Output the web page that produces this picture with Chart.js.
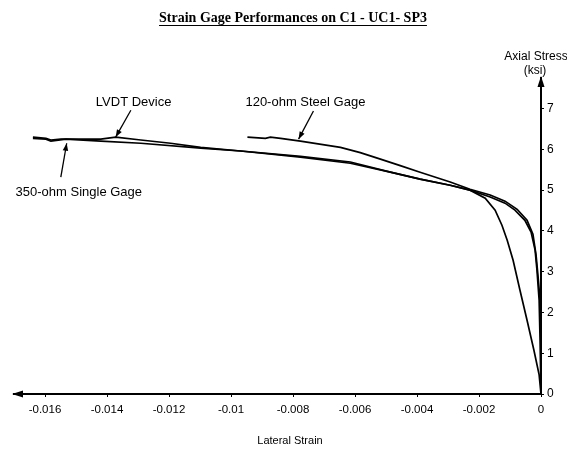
<!doctype html>
<html>
<head>
	<title>Strain Gage Performances</title>
	<script src="https://cdn.jsdelivr.net/npm/chart.js@4.4.0/dist/chart.umd.min.js"></script>
	<style>
	html, body { margin: 0; padding: 0; background: #fff; }
	#container { width: 567px; height: 452px; }
	</style>
</head>
<body>
	<div id="container">
		<canvas id="canvas"></canvas>
	</div>
	<script>
		// values
		const xTicks = [-0.016, -0.014, -0.012, -0.01, -0.008, -0.006, -0.004, -0.002, 0];
		const yTicks = [0, 1, 2, 3, 4, 5, 6, 7];

		const lvdtStrain = [-0.01639, -0.01597, -0.01581, -0.01549, -0.01420, -0.01372, -0.01291, -0.01195, -0.01098, -0.00969,
			-0.00776, -0.00615, -0.00486, -0.00390, -0.00293, -0.00229, -0.00180, -0.00148, -0.00126, -0.00109,
			-0.00090, -0.00068, -0.00045, -0.00023, -0.00006, 0];
		const lvdtStress = [6.30, 6.27, 6.23, 6.25, 6.25, 6.30, 6.23, 6.15, 6.05, 5.96,
			5.83, 5.69, 5.44, 5.27, 5.12, 5.00, 4.80, 4.51, 4.14, 3.77,
			3.28, 2.55, 1.81, 1.08, 0.47, 0];

		const singleStrain = [-0.01639, -0.01597, -0.01581, -0.01533, -0.01420, -0.01291, -0.01098, -0.00969, -0.00776, -0.00615,
			-0.00486, -0.00390, -0.00293, -0.00229, -0.00164, -0.00116, -0.00084, -0.00052, -0.00032, -0.00019,
			-0.00013, -0.00006, -0.00003, 0];
		const singleStress = [6.27, 6.25, 6.20, 6.25, 6.20, 6.15, 6.03, 5.96, 5.81, 5.66,
			5.44, 5.27, 5.12, 5.00, 4.83, 4.68, 4.51, 4.26, 3.97, 3.53,
			3.04, 2.30, 1.32, 0];

		const steelStrain = [-0.00947, -0.00889, -0.00873, -0.00840, -0.00776, -0.00647, -0.00583, -0.00518, -0.00454, -0.00390,
			-0.00293, -0.00229, -0.00164, -0.00116, -0.00077, -0.00045, -0.00026, -0.00016, -0.00010, -0.00003, 0, 0];
		const steelStress = [6.30, 6.27, 6.30, 6.27, 6.20, 6.05, 5.92, 5.76, 5.60, 5.44,
			5.20, 5.02, 4.88, 4.73, 4.53, 4.26, 3.92, 3.41, 2.92, 2.30, 1.32, 0];

		function toPoints(xs, ys) {
			return xs.map((x, i) => ({x: x, y: ys[i]}));
		}

		function curve(label, xs, ys) {
			return {
				label: label,
				data: toPoints(xs, ys),
				showLine: true,
				borderColor: '#000',
				borderWidth: 1.7,
				pointRadius: 0,
				tension: 0,
				fill: false
			};
		}

		const SANS = '"Liberation Sans", Arial, sans-serif';

		// arrows on axes, title, axis captions and callouts
		const decorations = {
			id: 'decorations',
			afterDraw(chart) {
				const ctx = chart.ctx;
				const a = chart.chartArea;
				const xs = chart.scales.x;
				const ys = chart.scales.y;
				ctx.save();
				ctx.fillStyle = '#000';
				ctx.strokeStyle = '#000';

				// axis arrowheads
				ctx.beginPath();
				ctx.moveTo(a.right, a.top - 2);
				ctx.lineTo(a.right - 3.5, a.top + 9);
				ctx.lineTo(a.right + 3.5, a.top + 9);
				ctx.closePath();
				ctx.fill();
				ctx.beginPath();
				ctx.moveTo(a.left - 2, a.bottom);
				ctx.lineTo(a.left + 9, a.bottom - 3.5);
				ctx.lineTo(a.left + 9, a.bottom + 3.5);
				ctx.closePath();
				ctx.fill();

				// title
				const title = 'Strain Gage Performances on C1 - UC1- SP3';
				ctx.font = 'bold 14px "Liberation Serif", "Times New Roman", serif';
				ctx.textAlign = 'center';
				ctx.textBaseline = 'alphabetic';
				ctx.fillText(title, 293, 22);
				const tw = ctx.measureText(title).width;
				ctx.lineWidth = 1;
				ctx.beginPath();
				ctx.moveTo(293 - tw / 2, 25.5);
				ctx.lineTo(293 + tw / 2, 25.5);
				ctx.stroke();

				// axis captions
				ctx.font = '12px ' + SANS;
				ctx.textBaseline = 'middle';
				ctx.fillText('Axial Stress', 536, 57);
				ctx.fillText('(ksi)', 535, 71);
				ctx.font = '11px ' + SANS;
				ctx.fillText('Lateral Strain', 290, 441);

				// callouts
				ctx.font = '13px ' + SANS;
				const callouts = [
					{text: 'LVDT Device', tx: -0.01314, ty: 7.16, ax: -0.01323, ay: 6.96, bx: -0.01372, by: 6.30},
					{text: '120-ohm Steel Gage', tx: -0.00760, ty: 7.16, ax: -0.00734, ay: 6.94, bx: -0.00782, by: 6.25},
					{text: '350-ohm Single Gage', tx: -0.01491, ty: 4.95, ax: -0.01549, ay: 5.32, bx: -0.01530, by: 6.15}
				];
				callouts.forEach((c) => {
					ctx.fillText(c.text, xs.getPixelForValue(c.tx), ys.getPixelForValue(c.ty));
					const x0 = xs.getPixelForValue(c.ax), y0 = ys.getPixelForValue(c.ay);
					const x1 = xs.getPixelForValue(c.bx), y1 = ys.getPixelForValue(c.by);
					ctx.lineWidth = 1.3;
					ctx.beginPath();
					ctx.moveTo(x0, y0);
					ctx.lineTo(x1, y1);
					ctx.stroke();
					const ang = Math.atan2(y1 - y0, x1 - x0);
					ctx.beginPath();
					ctx.moveTo(x1, y1);
					ctx.lineTo(x1 - 8 * Math.cos(ang - 0.35), y1 - 8 * Math.sin(ang - 0.35));
					ctx.lineTo(x1 - 8 * Math.cos(ang + 0.35), y1 - 8 * Math.sin(ang + 0.35));
					ctx.closePath();
					ctx.fill();
				});
				ctx.restore();
			}
		};

		window.onload = function() {
			const ctx = document.getElementById('canvas').getContext('2d');
			window.myChart = new Chart(ctx, {
				type: 'scatter',
				data: {
					datasets: [
						curve('LVDT Device', lvdtStrain, lvdtStress),
						curve('350-ohm Single Gage', singleStrain, singleStress),
						curve('120-ohm Steel Gage', steelStrain, steelStress)
					]
				},
				options: {
					responsive: true,
					maintainAspectRatio: false,
					animation: false,
					layout: {
						padding: {top: 78, left: 14, right: 0, bottom: 0}
					},
					plugins: {
						legend: {display: false},
						tooltip: {enabled: false},
						title: {display: false}
					},
					scales: {
						x: {
							type: 'linear',
							position: 'bottom',
							min: -0.017,
							max: 0,
							afterFit(scale) { scale.height = 58; },
							afterBuildTicks(scale) { scale.ticks = xTicks.map((v) => ({value: v})); },
							border: {display: true, color: '#000', width: 2},
							grid: {drawOnChartArea: false, drawTicks: true, tickLength: 3, color: '#000'},
							ticks: {
								color: '#000',
								padding: 6,
								maxRotation: 0,
								font: {family: SANS, size: 11.5},
								callback: (v) => String(Number(v.toFixed(3)))
							}
						},
						y: {
							type: 'linear',
							position: 'right',
							min: 0,
							max: 7.75,
							afterFit(scale) { scale.width = 26; },
							afterBuildTicks(scale) { scale.ticks = yTicks.map((v) => ({value: v})); },
							border: {display: true, color: '#000', width: 2},
							grid: {drawOnChartArea: false, drawTicks: true, tickLength: 3, color: '#000'},
							ticks: {
								color: '#000',
								padding: 3,
								font: {family: SANS, size: 12},
								callback: (v) => String(v)
							}
						}
					}
				},
				plugins: [decorations]
			});
		};
	</script>
</body>
</html>
